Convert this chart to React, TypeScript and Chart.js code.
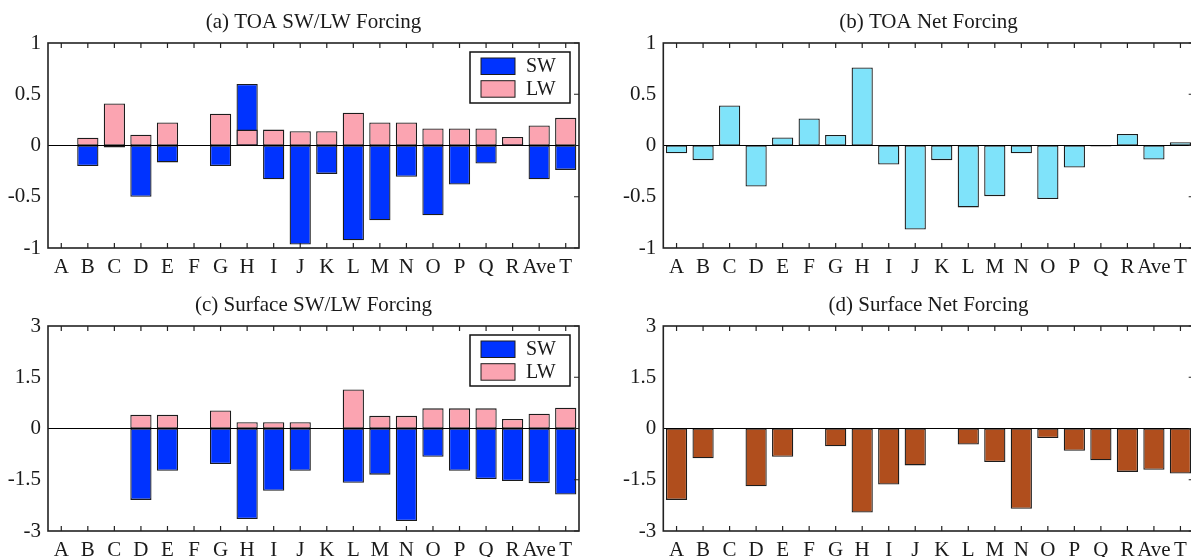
import React, { useEffect, useRef } from 'react';
import { Chart, registerables } from 'chart.js';

Chart.register(...registerables);

// ---------- data ----------
const categories = ['A', 'B', 'C', 'D', 'E', 'F', 'G', 'H', 'I', 'J', 'K', 'L', 'M', 'N', 'O', 'P', 'Q', 'R', 'Ave', 'T'];

const toaSW = [0, -0.2, -0.02, -0.5, -0.165, 0, -0.2, 0.6, -0.33, -0.966, -0.277, -0.924, -0.73, -0.306, -0.68, -0.38, -0.176, 0.03, -0.33, -0.238];
const toaLW = [0, 0.075, 0.41, 0.105, 0.225, 0, 0.31, 0.155, 0.155, 0.14, 0.14, 0.32, 0.225, 0.225, 0.166, 0.166, 0.166, 0.084, 0.195, 0.27];
const toaNet = [-0.075, -0.143, 0.39, -0.4, 0.078, 0.263, 0.103, 0.762, -0.185, -0.82, -0.143, -0.604, -0.494, -0.075, -0.523, -0.215, -0.01, 0.113, -0.137, 0.032];

const sfcSW = [0, 0, 0, -2.09, -1.24, 0, -1.04, -2.65, -1.82, -1.24, 0, -1.59, -1.35, -2.71, -0.83, -1.24, -1.48, -1.54, -1.6, -1.93];
const sfcLW = [0, 0, 0, 0.4, 0.4, 0, 0.53, 0.185, 0.185, 0.185, 0, 1.14, 0.37, 0.37, 0.59, 0.59, 0.59, 0.28, 0.43, 0.61];
const sfcNet = [-2.09, -0.87, 0, -1.69, -0.83, 0, -0.52, -2.46, -1.64, -1.08, 0, -0.47, -0.98, -2.35, -0.28, -0.65, -0.93, -1.27, -1.21, -1.32];

const titles = ['(a) TOA SW/LW Forcing', '(b) TOA Net Forcing', '(c) Surface SW/LW Forcing', '(d) Surface Net Forcing'];
const toaRange = { min: -1, max: 1, step: 0.5 };
const sfcRange = { min: -3, max: 3, step: 1.5 };

// ---------- styles ----------
const FONT = "'Liberation Serif', 'Times New Roman', serif";
const TEXT = '#1a1a1a';
const EDGE = '#1c1c1c';
const SW_COLOR = '#0033ff';
const LW_COLOR = '#fba4b1';
const TOA_NET_COLOR = '#7fe3fa';
const SFC_NET_COLOR = '#b04e1d';

const frameTicks = {
  id: 'frameTicks',
  afterDatasetsDraw(chart: any) {
    const { ctx, chartArea: a, scales } = chart;
    const x = scales.x;
    const y = scales.y;
    ctx.save();
    const y0 = y.getPixelForValue(0);
    ctx.strokeStyle = '#000';
    ctx.lineWidth = 1.2;
    ctx.beginPath();
    ctx.moveTo(a.left, y0);
    ctx.lineTo(a.right, y0);
    ctx.stroke();

    ctx.strokeStyle = '#222';
    ctx.lineWidth = 1.6;
    ctx.strokeRect(a.left, a.top, a.right - a.left, a.bottom - a.top);

    ctx.lineWidth = 1.2;
    ctx.beginPath();
    x.ticks.forEach((_: any, i: number) => {
      const px = x.getPixelForTick(i);
      ctx.moveTo(px, a.bottom);
      ctx.lineTo(px, a.bottom - 5);
      ctx.moveTo(px, a.top);
      ctx.lineTo(px, a.top + 5);
    });
    y.ticks.forEach((_: any, i: number) => {
      const py = y.getPixelForTick(i);
      ctx.moveTo(a.right, py);
      ctx.lineTo(a.right - 5, py);
    });
    ctx.stroke();
    ctx.restore();
  },
};

const boxLegend = {
  id: 'boxLegend',
  afterDraw(chart: any, _args: any, opts: any) {
    if (!opts || !opts.show) return;
    const { ctx, chartArea: a } = chart;
    const w = 100;
    const h = 51;
    const left = a.right - 9 - w;
    const top = a.top + 9;
    ctx.save();
    ctx.fillStyle = '#fff';
    ctx.fillRect(left, top, w, h);
    ctx.strokeStyle = '#111';
    ctx.lineWidth = 1.5;
    ctx.strokeRect(left, top, w, h);
    chart.data.datasets.forEach((ds: any, i: number) => {
      const sy = top + 6 + i * 22.7;
      ctx.fillStyle = ds.backgroundColor;
      ctx.fillRect(left + 11, sy, 34, 16.5);
      ctx.strokeStyle = EDGE;
      ctx.lineWidth = 1;
      ctx.strokeRect(left + 11, sy, 34, 16.5);
      ctx.fillStyle = TEXT;
      ctx.font = `20px ${FONT}`;
      ctx.textBaseline = 'middle';
      ctx.textAlign = 'left';
      ctx.fillText(ds.label, left + 56, sy + 9);
    });
    ctx.restore();
  },
};

function barDs(label: string, data: number[], color: string, order: number) {
  return {
    label,
    data,
    order,
    backgroundColor: color,
    borderColor: EDGE,
    borderWidth: 1.3,
    borderSkipped: false,
    barPercentage: 1,
    categoryPercentage: 0.8,
  };
}

type PanelProps = {
  left: number;
  top: number;
  width: number;
  height: number;
  yWidth: number;
  title: string;
  datasets: any[];
  range: { min: number; max: number; step: number };
  legend: boolean;
};

function Panel(p: PanelProps) {
  const ref = useRef<HTMLCanvasElement>(null);
  useEffect(() => {
    const chart = new Chart(ref.current as HTMLCanvasElement, {
      type: 'bar',
      data: { labels: categories, datasets: p.datasets },
      options: {
        responsive: false,
        animation: false,
        devicePixelRatio: 1,
        layout: { padding: 0 },
        plugins: {
          legend: { display: false },
          tooltip: { enabled: false },
          title: {
            display: true,
            text: p.title,
            color: TEXT,
            font: { family: FONT, size: 21, weight: 'normal', lineHeight: 1.2 },
            padding: { top: 9.4, bottom: 8.4 },
          },
          boxLegend: { show: p.legend },
        } as any,
        scales: {
          x: {
            stacked: true,
            offset: true,
            grid: { display: false, drawTicks: false },
            border: { display: false },
            ticks: { autoSkip: false, maxRotation: 0, padding: 7, color: TEXT, font: { family: FONT, size: 21 } },
            afterFit: (s: any) => {
              s.height = p.height - 248;
            },
          },
          y: {
            stacked: false,
            min: p.range.min,
            max: p.range.max,
            grid: { display: false, drawTicks: false },
            border: { display: false },
            ticks: {
              stepSize: p.range.step,
              padding: 7,
              color: TEXT,
              font: { family: FONT, size: 21 },
              callback: (v: any) => String(v),
            },
            afterFit: (s: any) => {
              s.width = p.yWidth;
            },
          },
          yRight: {
            position: 'right',
            min: p.range.min,
            max: p.range.max,
            grid: { display: false, drawTicks: false },
            border: { display: false },
            ticks: { display: false },
            afterFit: (s: any) => {
              s.width = p.yWidth;
            },
          },
        } as any,
      },
      plugins: [frameTicks, boxLegend],
    });
    return () => chart.destroy();
  }, []);
  return (
    <canvas
      ref={ref}
      width={p.width}
      height={p.height}
      style={{ position: 'absolute', left: p.left, top: p.top, width: p.width, height: p.height }}
    />
  );
}

export default function App() {
  return (
    <div
      style={{
        position: 'fixed',
        left: 0,
        top: 0,
        width: 1191,
        height: 557,
        overflow: 'hidden',
        background: '#fff',
      }}
    >
      <Panel
        left={0}
        top={0}
        width={627}
        height={290}
        yWidth={48}
        title={titles[0]}
        datasets={[barDs('SW', toaSW, SW_COLOR, 1), barDs('LW', toaLW, LW_COLOR, 0)]}
        range={toaRange}
        legend={true}
      />
      <Panel
        left={600}
        top={0}
        width={657}
        height={290}
        yWidth={63.3}
        title={titles[1]}
        datasets={[barDs('Net', toaNet, TOA_NET_COLOR, 0)]}
        range={toaRange}
        legend={false}
      />
      <Panel
        left={0}
        top={283}
        width={627}
        height={274}
        yWidth={48}
        title={titles[2]}
        datasets={[barDs('SW', sfcSW, SW_COLOR, 1), barDs('LW', sfcLW, LW_COLOR, 0)]}
        range={sfcRange}
        legend={true}
      />
      <Panel
        left={600}
        top={283}
        width={657}
        height={274}
        yWidth={63.3}
        title={titles[3]}
        datasets={[barDs('Net', sfcNet, SFC_NET_COLOR, 0)]}
        range={sfcRange}
        legend={false}
      />
    </div>
  );
}
